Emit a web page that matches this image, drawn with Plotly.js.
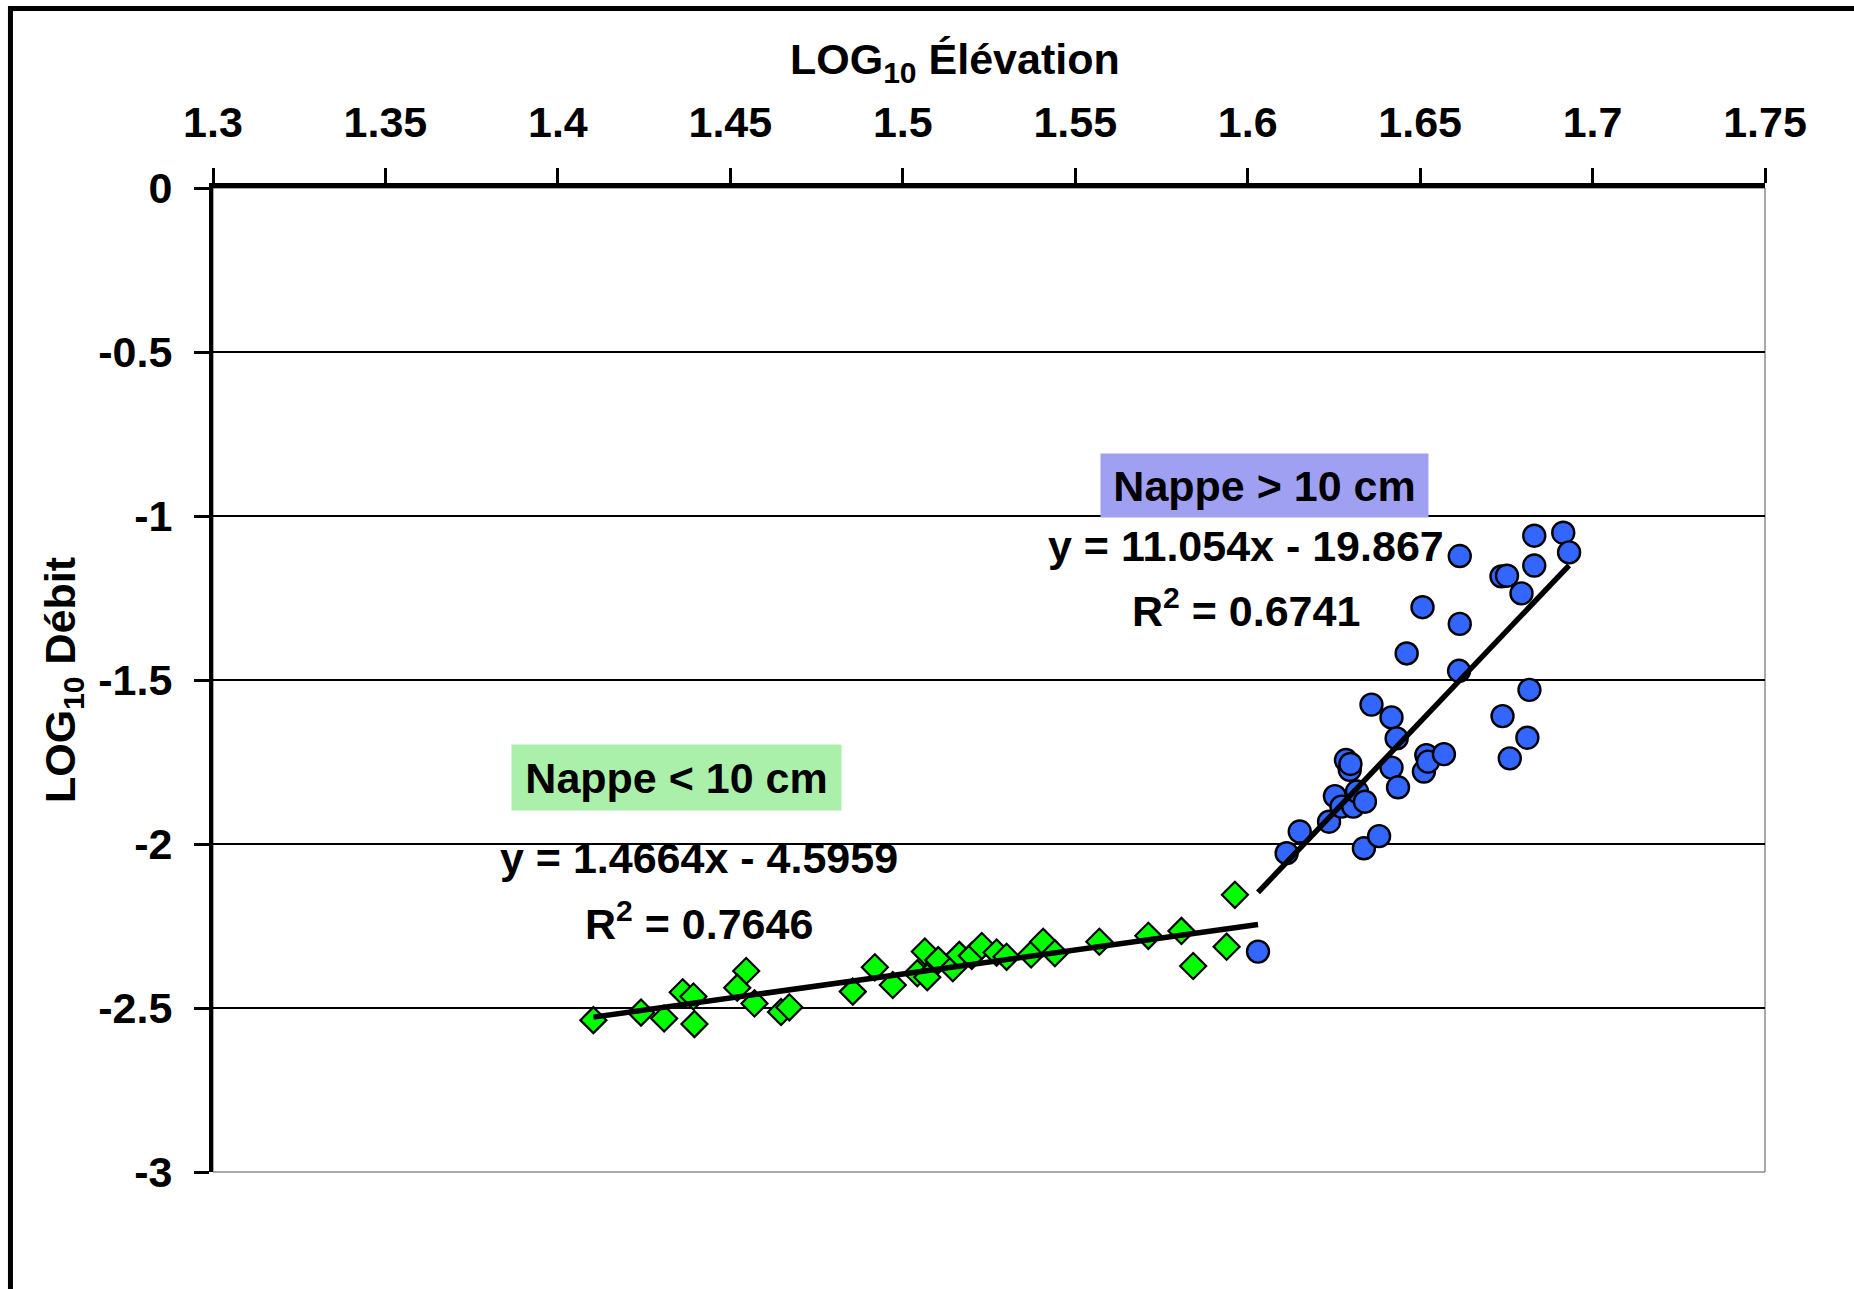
<!DOCTYPE html>
<html>
<head>
<meta charset="utf-8">
<script src="https://cdn.plot.ly/plotly-3.0.1.min.js"></script>
<style>
  html, body { margin: 0; padding: 0; background: #ffffff; }
  #chart { width: 1854px; height: 1289px; }
</style>
</head>
<body>
<div id="chart"></div>
<script>
// ---- Data: LOG10 Élévation (x) vs LOG10 Débit (y) ----
const greenX = [1.4103, 1.4241, 1.4308, 1.4362, 1.4393, 1.4396, 1.4546, 1.4520, 1.4570, 1.4647,
                1.4671, 1.4855, 1.4919, 1.4971, 1.5064, 1.5042, 1.5071, 1.5103, 1.5145, 1.5164,
                1.5200, 1.5229, 1.5272, 1.5301, 1.5372, 1.5407, 1.5441, 1.5570, 1.5712, 1.5808,
                1.5842, 1.5939, 1.5963];
const greenY = [-2.537, -2.514, -2.532, -2.452, -2.465, -2.549, -2.387, -2.438, -2.486, -2.512,
                -2.498, -2.450, -2.376, -2.430, -2.328, -2.394, -2.406, -2.354, -2.379, -2.338,
                -2.341, -2.311, -2.331, -2.344, -2.337, -2.298, -2.333, -2.298, -2.280, -2.265,
                -2.372, -2.313, -2.155];

const blueX = [1.6030, 1.6113, 1.6151, 1.6236, 1.6253, 1.6272, 1.6306, 1.6317, 1.6340, 1.6285,
               1.6296, 1.6298, 1.6337, 1.6381, 1.6417, 1.6436, 1.6511, 1.6518, 1.6523, 1.6569,
               1.6359, 1.6417, 1.6432, 1.6615, 1.6507, 1.6615, 1.6461, 1.6613, 1.6831, 1.6915,
               1.6932, 1.6831, 1.6736, 1.6752, 1.6794, 1.6817, 1.6739, 1.6811, 1.6760];
const blueY = [-2.328, -2.028, -1.962, -1.932, -1.854, -1.886, -1.886, -1.840, -1.871, -1.744,
               -1.774, -1.756, -2.013, -1.976, -1.767, -1.827, -1.779, -1.729, -1.749, -1.726,
               -1.575, -1.614, -1.678, -1.122, -1.278, -1.329, -1.419, -1.472, -1.060, -1.051,
               -1.111, -1.151, -1.184, -1.182, -1.236, -1.530, -1.610, -1.676, -1.739];

// Trendline coefficients (from the chart's equations)
const greenSlope = 1.4664, greenIntercept = -4.5959;
const blueSlope = 11.054, blueIntercept = -19.867;

// Tick labels
const xTickVals = [1.3, 1.35, 1.4, 1.45, 1.5, 1.55, 1.6, 1.65, 1.7, 1.75];
const xTickText = ['1.3', '1.35', '1.4', '1.45', '1.5', '1.55', '1.6', '1.65', '1.7', '1.75'];
const yTickVals = [0, -0.5, -1, -1.5, -2, -2.5, -3];
const yTickText = ['0', '-0.5', '-1', '-1.5', '-2', '-2.5', '-3'];

// Text labels
const xTitle = 'LOG<sub>10</sub> Élévation';
const yTitle = 'LOG<sub>10</sub> Débit';
const labelHigh = 'Nappe > 10 cm';
const labelLow = 'Nappe < 10 cm';
const eqHigh = 'y = 11.054x - 19.867';
const r2High = 'R<sup>2</sup> = 0.6741';
const eqLow = 'y = 1.4664x - 4.5959';
const r2Low = 'R<sup>2</sup> = 0.7646';

// ---- Build trendlines from data extents ----
const gx0 = Math.min(...greenX), gx1 = Math.min(...blueX);
const bx0 = Math.min(...blueX), bx1 = Math.max(...blueX);
const greenTrendX = [gx0, gx1];
const greenTrendY = greenTrendX.map(v => greenSlope * v + greenIntercept);
const blueTrendX = [bx0, bx1];
const blueTrendY = blueTrendX.map(v => blueSlope * v + blueIntercept);

const FONT = '"Liberation Sans", Arial, Helvetica, sans-serif';
const FS = 43;

const traces = [
  { x: greenX, y: greenY, type: 'scatter', mode: 'markers', name: labelLow,
    marker: { symbol: 'diamond', size: 20, color: '#00FF00', line: { color: '#000000', width: 2.2 } } },
  { x: blueX, y: blueY, type: 'scatter', mode: 'markers', name: labelHigh,
    marker: { symbol: 'circle', size: 22, color: '#3366FF', line: { color: '#000000', width: 2.4 } } },
  { x: greenTrendX, y: greenTrendY, type: 'scatter', mode: 'lines',
    line: { color: '#000000', width: 5.5 }, hoverinfo: 'skip' },
  { x: blueTrendX, y: blueTrendY, type: 'scatter', mode: 'lines',
    line: { color: '#000000', width: 5.5 }, hoverinfo: 'skip' }
];

const txtFont = { family: FONT, size: FS, color: '#000000', weight: 'bold' };

const layout = {
  width: 1854, height: 1289,
  margin: { l: 213, r: 89, t: 188, b: 117, pad: 0 },
  paper_bgcolor: '#ffffff', plot_bgcolor: '#ffffff',
  showlegend: false,
  font: { family: FONT, color: '#000000' },
  title: {
    text: xTitle, font: txtFont,
    xref: 'paper', x: 0.478, xanchor: 'center',
    yref: 'container', y: 0.9542, yanchor: 'middle'
  },
  xaxis: {
    range: [1.3, 1.75], side: 'top', automargin: false,
    tickmode: 'array', tickvals: xTickVals, ticktext: xTickText,
    ticks: 'outside', ticklen: 15, tickwidth: 3, tickcolor: '#000000',
    showline: true, linecolor: '#000000', linewidth: 5,
    showgrid: false, zeroline: false,
    tickfont: { family: FONT, size: FS, color: '#000000', weight: 'bold' },
    ticklabelstandoff: 14
  },
  yaxis: {
    range: [-3, 0], automargin: false,
    tickmode: 'array', tickvals: yTickVals, ticktext: yTickText,
    ticks: 'outside', ticklen: 15, tickwidth: 3, tickcolor: '#000000',
    showline: true, linecolor: '#000000', linewidth: 4,
    showgrid: true, gridcolor: '#000000', gridwidth: 1.3, zeroline: false,
    tickfont: { family: FONT, size: FS, color: '#000000', weight: 'bold' },
    ticklabelstandoff: 13,
    title: { text: yTitle, font: { family: FONT, size: FS, color: '#000000', weight: 'bold' }, standoff: 10 }
  },
  shapes: [
    { type: 'rect', xref: 'paper', yref: 'paper', x0: 0, x1: 1, y0: 0, y1: 1,
      line: { color: '#555555', width: 1 }, fillcolor: 'rgba(0,0,0,0)', layer: 'below' },
    { type: 'rect', xref: 'paper', yref: 'paper', x0: -0.1305, x1: 1.5, y0: -0.5, y1: 1.1824,
      line: { color: '#000000', width: 5 }, fillcolor: 'rgba(0,0,0,0)', layer: 'above' }
  ],
  annotations: [
    { x: 1.6048, y: -0.907, xref: 'x', yref: 'y', text: '<b>' + labelHigh.replace('>', '&gt;') + '</b>',
      showarrow: false, xanchor: 'center', yanchor: 'middle', width: 327, height: 63,
      bgcolor: '#a0a0f2', borderpad: 0, font: txtFont },
    { x: 1.5995, y: -1.0915, xref: 'x', yref: 'y', text: '<b>' + eqHigh + '</b>',
      showarrow: false, xanchor: 'center', yanchor: 'middle', font: txtFont },
    { x: 1.5995, y: -1.280, xref: 'x', yref: 'y', text: '<b>' + r2High + '</b>',
      showarrow: false, xanchor: 'center', yanchor: 'middle', font: txtFont },
    { x: 1.4343, y: -1.797, xref: 'x', yref: 'y', text: '<b>' + labelLow.replace('<', '&lt;') + '</b>',
      showarrow: false, xanchor: 'center', yanchor: 'middle', width: 329, height: 65,
      bgcolor: '#aaf0aa', borderpad: 0, font: txtFont },
    { x: 1.4409, y: -2.043, xref: 'x', yref: 'y', text: '<b>' + eqLow + '</b>',
      showarrow: false, xanchor: 'center', yanchor: 'middle', font: txtFont },
    { x: 1.4409, y: -2.235, xref: 'x', yref: 'y', text: '<b>' + r2Low + '</b>',
      showarrow: false, xanchor: 'center', yanchor: 'middle', font: txtFont }
  ]
};

Plotly.newPlot('chart', traces, layout, { displayModeBar: false, staticPlot: true });
</script>
</body>
</html>
